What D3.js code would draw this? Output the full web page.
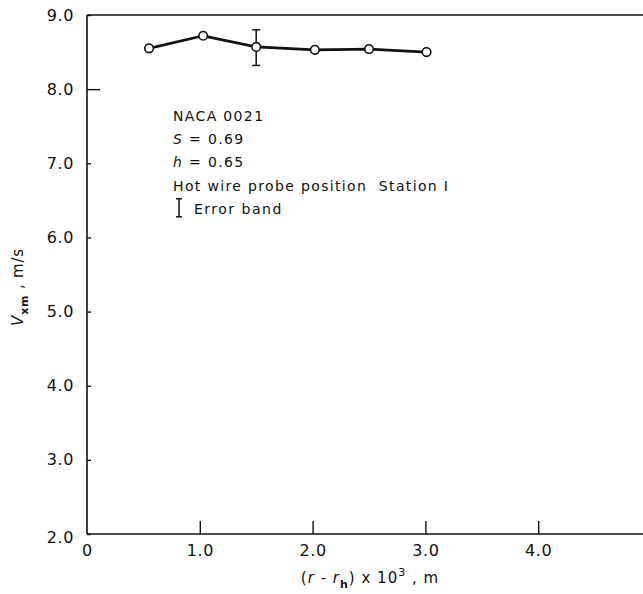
<!DOCTYPE html>
<html>
<head>
<meta charset="utf-8">
<script src="https://cdn.jsdelivr.net/npm/d3@7"></script>
<style>
  body { margin: 0; background: #fff; }
  svg text { font-family: "DejaVu Sans", "Liberation Sans", sans-serif; fill: #111; white-space: pre; }
</style>
</head>
<body>
<svg id="chart" width="643" height="594"></svg>
<script>
// Measured velocity profile, Station I
const radius   = [0.55, 1.03, 1.50, 2.02, 2.50, 3.01];   // (r - r_h) x 10^3, m
const velocity = [8.55, 8.72, 8.57, 8.53, 8.54, 8.50];   // V_xm, m/s

// Error band drawn on one point
const errorX    = [1.50];
const errorLow  = [8.32];
const errorHigh = [8.80];

// Axis ticks
const xTicks      = [0, 1, 2, 3, 4];
const xTickLabels = ["0", "1.0", "2.0", "3.0", "4.0"];
const yTicks      = [2, 3, 4, 5, 6, 7, 8, 9];
const yTickLabels = ["2.0", "3.0", "4.0", "5.0", "6.0", "7.0", "8.0", "9.0"];

// Annotation block
const noteNames  = ["NACA 0021", "S", "h", "Hot wire probe position  Station I"];
const noteValues = ["", "0.69", "0.65", ""];

const svg = d3.select("#chart");
const plotLeft = 87, plotRight = 651, plotTop = 15, plotBottom = 534;

const x = d3.scaleLinear().domain([0, 5]).range([plotLeft, plotRight]);
const y = d3.scaleLinear().domain([2, 9]).range([plotBottom, plotTop]);

const ink = "#111";

// Frame
const frame = svg.append("g").attr("stroke", ink).attr("stroke-width", 1.6).attr("fill", "none");
frame.append("line").attr("x1", plotLeft).attr("x2", plotLeft).attr("y1", plotTop).attr("y2", plotBottom);
frame.append("line").attr("x1", plotLeft).attr("x2", plotRight).attr("y1", plotBottom).attr("y2", plotBottom);
frame.append("line").attr("x1", plotLeft).attr("x2", plotRight).attr("y1", plotTop).attr("y2", plotTop);
frame.append("line").attr("x1", plotRight).attr("x2", plotRight).attr("y1", plotTop).attr("y2", plotBottom);

// X axis with inward ticks
const xAxis = d3.axisBottom(x)
  .tickValues(xTicks)
  .tickFormat((d, i) => xTickLabels[i])
  .tickSize(-13)
  .tickPadding(11);
const gx = svg.append("g").attr("transform", `translate(0,${plotBottom})`).call(xAxis);
gx.select(".domain").remove();
gx.selectAll(".tick line").attr("stroke", ink).attr("stroke-width", 1.4)
  .attr("display", d => d === 0 ? "none" : null);
gx.selectAll(".tick text").attr("font-size", 16).attr("letter-spacing", 0.6).attr("fill", ink);

// Y axis with inward ticks
const yAxis = d3.axisLeft(y)
  .tickValues(yTicks)
  .tickFormat((d, i) => yTickLabels[i])
  .tickSize(-4)
  .tickPadding(13);
const gy = svg.append("g").attr("transform", `translate(${plotLeft},0)`).call(yAxis);
gy.select(".domain").remove();
gy.selectAll(".tick line").attr("stroke", ink).attr("stroke-width", 1.4)
  .attr("x2", d => d === 8 ? 13 : 4);
gy.selectAll(".tick text").attr("font-size", 16).attr("letter-spacing", 0.6).attr("fill", ink)
  .attr("dy", d => d === 2 ? "0.55em" : "0.32em");

// Axis titles
const xt = svg.append("text").attr("x", 370).attr("y", 583)
  .attr("text-anchor", "middle").attr("font-size", 15).attr("letter-spacing", 1);
xt.append("tspan").text("(");
xt.append("tspan").attr("font-style", "italic").text("r");
xt.append("tspan").text(" - ");
xt.append("tspan").attr("font-style", "italic").text("r");
xt.append("tspan").attr("font-size", 11).attr("dy", 5).attr("font-weight", "bold").text("h");
xt.append("tspan").attr("dy", -5).text(") x 10");
xt.append("tspan").attr("font-size", 11).attr("dy", -7).text("3");
xt.append("tspan").attr("dy", 7).text(" , m");

const yt = svg.append("text").attr("transform", "translate(23,287) rotate(-90)")
  .attr("text-anchor", "middle").attr("font-size", 15).attr("letter-spacing", 0.8);
yt.append("tspan").attr("font-style", "italic").text("V");
yt.append("tspan").attr("font-size", 11).attr("dy", 5).attr("font-weight", "bold").text("xm");
yt.append("tspan").attr("dy", -5).text(" , m/s");

// Annotation text
const noteX = 173, noteY0 = 121, noteStep = 23.2;
noteNames.forEach((name, i) => {
  const t = svg.append("text").attr("x", noteX).attr("y", noteY0 + i * noteStep)
    .attr("font-size", 14).attr("letter-spacing", 1.35);
  if (noteValues[i]) {
    t.append("tspan").attr("font-style", "italic").text(name);
    t.append("tspan").text(" = " + noteValues[i]);
  } else {
    t.text(name);
  }
});

// Legend entry for the error band
const legY = noteY0 + 4 * noteStep;
const lg = svg.append("g").attr("stroke", ink).attr("stroke-width", 1.5);
lg.append("line").attr("x1", 179).attr("x2", 179).attr("y1", legY - 15).attr("y2", legY + 3);
lg.append("line").attr("x1", 176).attr("x2", 182).attr("y1", legY - 15).attr("y2", legY - 15);
lg.append("line").attr("x1", 176).attr("x2", 182).attr("y1", legY + 3).attr("y2", legY + 3);
svg.append("text").attr("x", 194).attr("y", legY)
  .attr("font-size", 14).attr("letter-spacing", 1.5).text("Error band");

// Data line
const line = d3.line().x((d, i) => x(radius[i])).y(d => y(d));
svg.append("path").datum(velocity).attr("d", line)
  .attr("fill", "none").attr("stroke", ink).attr("stroke-width", 2.8).attr("stroke-linejoin", "round");

// Error bar
const eb = svg.append("g").attr("stroke", ink).attr("stroke-width", 1.5);
errorX.forEach((ex, i) => {
  eb.append("line").attr("x1", x(ex)).attr("x2", x(ex)).attr("y1", y(errorLow[i])).attr("y2", y(errorHigh[i]));
  eb.append("line").attr("x1", x(ex) - 4).attr("x2", x(ex) + 4).attr("y1", y(errorLow[i])).attr("y2", y(errorLow[i]));
  eb.append("line").attr("x1", x(ex) - 4).attr("x2", x(ex) + 4).attr("y1", y(errorHigh[i])).attr("y2", y(errorHigh[i]));
});

// Markers
svg.append("g").selectAll("circle").data(velocity).join("circle")
  .attr("cx", (d, i) => x(radius[i])).attr("cy", d => y(d)).attr("r", 4.3)
  .attr("fill", "#fff").attr("stroke", ink).attr("stroke-width", 1.6);
</script>
</body>
</html>
